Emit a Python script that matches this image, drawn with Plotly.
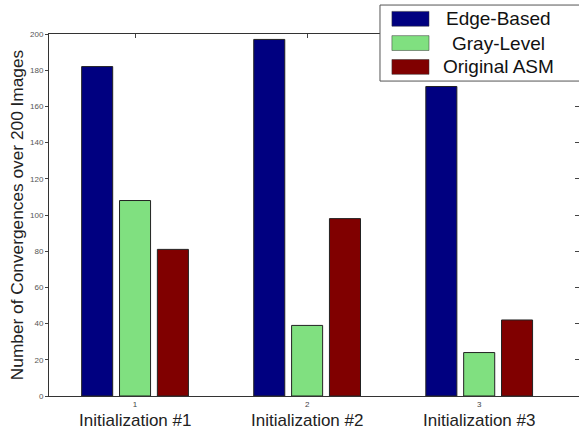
import plotly.graph_objects as go

groups = [1, 2, 3]
group_labels = ["Initialization #1", "Initialization #2", "Initialization #3"]
series_names = ["Edge-Based", "Gray-Level", "Original ASM"]
edge_based = [182, 197, 171]
gray_level = [108, 39, 24]
original_asm = [81, 98, 42]
series_values = [edge_based, gray_level, original_asm]
colors = ["#000080", "#80e080", "#800000"]
y_ticks = [0, 20, 40, 60, 80, 100, 120, 140, 160, 180, 200]

FONT = "Liberation Sans, Arial, sans-serif"

fig = go.Figure()
for name, vals, c in zip(series_names, series_values, colors):
    fig.add_trace(go.Bar(x=groups, y=vals, name=name, marker_color=c,
                         marker_line_color="#222222", marker_line_width=1,
                         showlegend=False))

# invisible trace to anchor mirrored axes
fig.add_trace(go.Scatter(x=[None], y=[None], xaxis="x2", yaxis="y2",
                         showlegend=False, hoverinfo="skip"))

xr = [0.5, 3.58]
fig.update_layout(
    width=579, height=437,
    margin=dict(l=49, r=0, t=34, b=41),
    paper_bgcolor="white", plot_bgcolor="white",
    barmode="group", bargap=0.34, bargroupgap=0.18,
    font=dict(family=FONT, color="#333333"),
    xaxis=dict(range=xr, tickvals=groups, ticktext=[str(g) for g in groups],
               ticks="", showgrid=False, zeroline=False,
               showline=True, linecolor="#333333", linewidth=1,
               tickfont=dict(size=8, color="#444444")),
    yaxis=dict(range=[0, 200], tickvals=y_ticks, ticks="outside", ticklen=3,
               tickcolor="#444444", showgrid=False, zeroline=False,
               showline=True, linecolor="#333333", linewidth=1,
               tickfont=dict(size=8, color="#555555"),
               title=dict(text="Number of Convergences over 200 Images",
                          font=dict(size=17.3, color="#222222"), standoff=1)),
    xaxis2=dict(range=xr, overlaying="x", side="top", tickvals=groups,
                showticklabels=False, ticks="inside", ticklen=4,
                tickcolor="#444444", showgrid=False, zeroline=False,
                showline=True, linecolor="#333333", linewidth=1),
    yaxis2=dict(range=[0, 200], overlaying="y", side="right", tickvals=y_ticks,
                showticklabels=False, ticks="inside", ticklen=4,
                tickcolor="#444444", showgrid=False, zeroline=False,
                showline=False),
)

for g, lab in zip(groups, group_labels):
    fig.add_annotation(x=g, y=-0.069, xref="x", yref="paper", text=lab,
                       showarrow=False, xanchor="center", yanchor="middle",
                       font=dict(size=17, color="#222222", family=FONT))

# legend box drawn manually
fig.add_shape(type="rect", xref="paper", yref="paper",
              x0=0.6245, x1=1.03, y0=0.870, y1=1.080,
              fillcolor="white", line=dict(color="#555555", width=1), layer="above")
row_y = [1.042, 0.975, 0.909]
for name, c, yy in zip(series_names, colors, row_y):
    fig.add_shape(type="rect", xref="paper", yref="paper",
                  x0=0.647, x1=0.717, y0=yy - 0.0205, y1=yy + 0.0205,
                  fillcolor=c, line=dict(color="#333333", width=0.5), layer="above")
    fig.add_annotation(x=0.849, y=yy, xref="paper", yref="paper", text=name,
                       showarrow=False, xanchor="center", yanchor="middle",
                       font=dict(size=19, color="#111111", family=FONT))

fig.write_html("out.html", config={"displayModeBar": False},
               post_script="document.body.style.margin='0';document.body.style.overflow='hidden';")
